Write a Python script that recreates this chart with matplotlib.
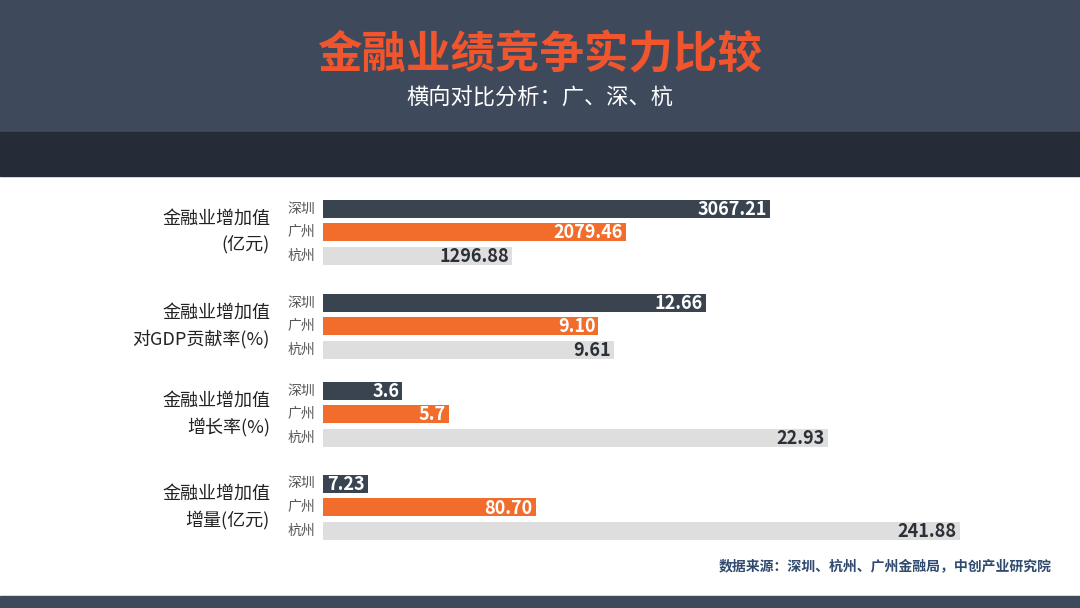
import numpy as np
import matplotlib.pyplot as plt
from matplotlib.patches import Rectangle

plt.rcParams['font.family'] = ['Noto Sans CJK SC', 'DejaVu Sans']

title = '金融业绩竞争实力比较'
subtitle = '横向对比分析：广、深、杭'
cities = ['深圳', '广州', '杭州']
group_labels = ['金融业增加值\n(亿元)', '金融业增加值\n对GDP贡献率(%)', '金融业增加值\n增长率(%)', '金融业增加值\n增量(亿元)']
values = [
    [3067.21, 2079.46, 1296.88],
    [12.66, 9.10, 9.61],
    [3.6, 5.7, 22.93],
    [7.23, 80.70, 241.88],
]
value_text = [
    ['3067.21', '2079.46', '1296.88'],
    ['12.66', '9.10', '9.61'],
    ['3.6', '5.7', '22.93'],
    ['7.23', '80.70', '241.88'],
]
source = '数据来源：深圳、杭州、广州金融局，中创产业研究院'

# layout (pixels)
W, H = 1080, 608
x0 = 323
group_len = [447, 383, 505, 637]   # drawn length of each group's longest bar
min_len = 45                       # bars never shorter than their label
group_y = [232, 326, 414, 507]
row_gap = 23.5
bar_h = 18
colors = ['#3a4350', '#f26d2b', '#dedede']
text_colors = ['white', 'white', '#2b2f36']

fig = plt.figure(figsize=(W / 100, H / 100), dpi=100)
ax = fig.add_axes([0, 0, 1, 1])
ax.set_xlim(0, W)
ax.set_ylim(H, 0)
ax.axis('off')

# header bands
ax.add_patch(Rectangle((0, 0), W, 132, color='#3e4a5b', zorder=0))
ax.add_patch(Rectangle((0, 132), W, 44, color='#252c38', zorder=0))
ax.add_patch(Rectangle((0, 596), W, 12, color='#3e4a5b', zorder=0))
ax.text(540, 55, title, color='#f0552d', fontsize=32, fontweight='bold', ha='center', va='center')
ax.text(540, 98, subtitle, color='white', fontsize=16, ha='center', va='center')

for g, vals in enumerate(values):
    scale = group_len[g] / max(vals)
    lens = np.maximum(np.array(vals) * scale, min_len)
    ys = group_y[g] + (np.arange(3) - 1) * row_gap
    ax.barh(ys, lens, left=x0, height=bar_h, color=colors, zorder=2)
    for i, (ln, y) in enumerate(zip(lens, ys)):
        ax.text(x0 - 8, y, cities[i], ha='right', va='center', fontsize=10, color='#555555')
        ax.text(x0 + ln - 3, y + 1, value_text[g][i], ha='right', va='center',
                fontsize=13, fontweight='bold', color=text_colors[i], zorder=3)
    ax.text(270, group_y[g], group_labels[g], ha='right', va='center', fontsize=13,
            color='#222222', linespacing=1.5)

ax.text(1052, 566, source, ha='right', va='center', fontsize=10, color='#2f4a6e',
        style='italic', fontweight='bold')

fig.savefig('out.png', dpi=100)
